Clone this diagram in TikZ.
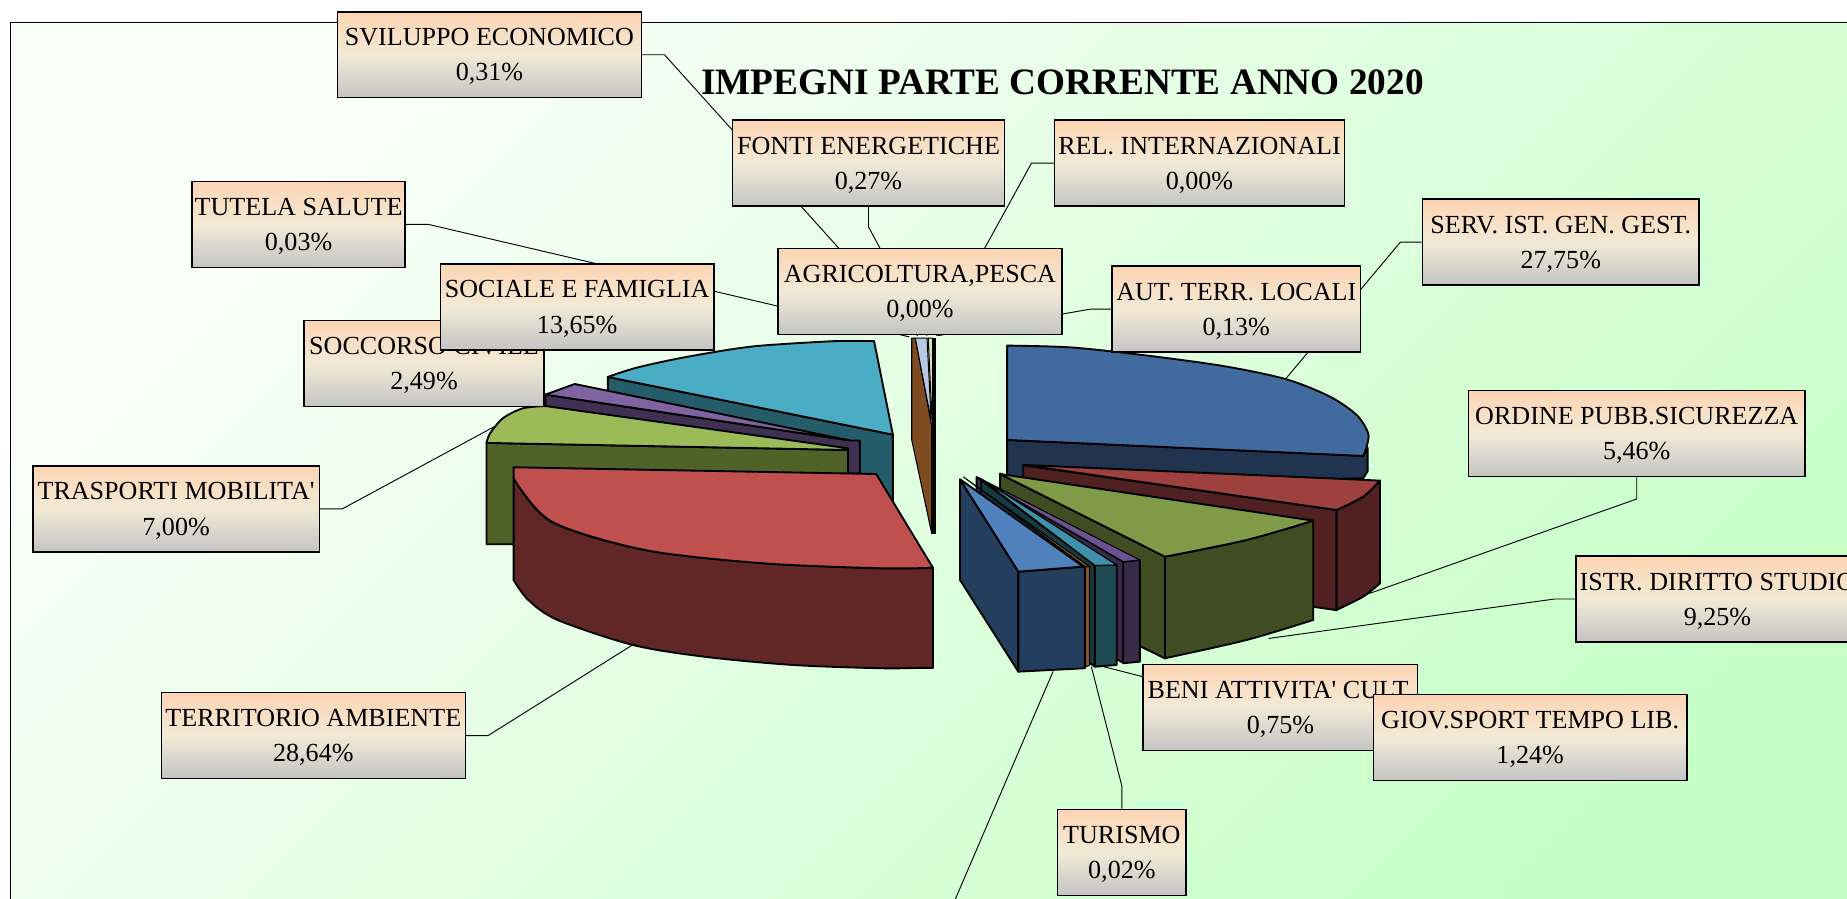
\documentclass[tikz,border=0pt]{standalone}
\usepackage{fontspec}
\setmainfont{Liberation Serif}

\definecolor{bgLight}{RGB}{250,255,250}
\definecolor{bgGreen}{RGB}{198,255,198}
\definecolor{boxTop}{RGB}{252,212,178}
\definecolor{boxMid}{RGB}{242,234,214}
\definecolor{boxBot}{RGB}{196,196,196}
\definecolor{socTop}{HTML}{4BACC6}
\definecolor{socSide}{HTML}{255C6A}
\definecolor{soccTop}{HTML}{8064A2}
\definecolor{soccSide}{HTML}{403152}
\definecolor{traspTop}{HTML}{9BBB59}
\definecolor{traspSide}{HTML}{4F6228}
\definecolor{terTop}{HTML}{C0504D}
\definecolor{terSide}{HTML}{612626}
\definecolor{servTop}{HTML}{416A9E}
\definecolor{servSide}{HTML}{20344F}
\definecolor{ordTop}{HTML}{9E403E}
\definecolor{ordSide}{HTML}{512020}
\definecolor{istrTop}{HTML}{809B48}
\definecolor{istrSide}{HTML}{404C22}
\definecolor{giovTop}{HTML}{6C5291}
\definecolor{giovSide}{HTML}{382A48}
\definecolor{beniTop}{HTML}{3D91AA}
\definecolor{beniSide}{HTML}{1E4852}
\definecolor{turBrown}{HTML}{8C5424}
\definecolor{bluTop}{HTML}{4F81BD}
\definecolor{bluSide}{HTML}{243E5D}
\definecolor{svilBrown}{HTML}{7F4B21}
\definecolor{relBlue}{HTML}{B9C8E4}
\definecolor{agriGreen}{HTML}{D7E4BD}

\pgfdeclarelayer{back}
\pgfdeclarelayer{lines}
\pgfsetlayers{back,lines,main}

\begin{document}
\begin{tikzpicture}[x=0.02cm, y=-0.02cm,
    label node/.style={draw, line width=0.7pt, top color=boxTop, bottom color=boxBot,
      middle color=boxMid, align=center, inner xsep=1pt, inner ysep=0pt, text depth=0pt,
      minimum height=1.46cm, font=\fontsize{12.6}{17}\selectfont},
    boxw/.style={minimum width=#1*0.02cm},
    title node/.style={font=\fontsize{18}{22}\selectfont\bfseries},
    slice/.style={draw, line width=0.9pt, line join=round},
    sliver/.style={draw, line width=0.5pt, line join=round},
    leader/.style={draw, line width=0.45pt}]

  \useasboundingbox (0,0) rectangle (1568,763);

  \begin{pgfonlayer}{back}
  \shadedraw[line width=0.7pt, top color=bgLight, bottom color=bgGreen, shading angle=45]
    (9,19) rectangle (1600,800);

  % sociale e famiglia
  \filldraw[slice, fill=socSide] (516,320) -- (758,369) -- (758,425) -- (516,376) -- cycle;
  \filldraw[slice, fill=socTop] plot[smooth] coordinates {(516,320) (541,312) (583,303) (640,294) (710,289.5)}
    -- (742,289.5) -- (758,369) -- cycle;
  % soccorso civile
  \filldraw[slice, fill=soccSide] (463,335) -- (722,374) -- (730,374) -- (730,402) -- (720,402) -- (463,347) -- cycle;
  \filldraw[slice, fill=soccTop] (488,326) -- (722,374) -- (463,335) -- cycle;
  % trasporti
  \filldraw[slice, fill=traspSide] (413,376) -- (720,382) -- (720,462) -- (413,462) -- cycle;
  \filldraw[slice, fill=traspTop] plot[smooth] coordinates {(413,376) (416,368) (427,355) (444,346.6) (463,344.7)}
    -- (720,380.6) -- (720,382) -- cycle;
  % territorio ambiente
  \filldraw[slice, fill=terSide] plot[smooth] coordinates {(436,406) (468,443) (548,467) (648,478) (747,482.4) (792,482)}
    -- (792,567) -- plot[smooth] coordinates {(781,567) (747,567.3) (672.6,564.5) (597.8,557.5) (537,547.5) (473.3,526.3) (448.4,509.3) (436,492.4)}
    -- cycle;
  \filldraw[slice, fill=terTop] (436,396.7) -- (743.8,402.4) -- (792,482)
    -- plot[smooth] coordinates {(792,482) (747.3,482.4) (647.7,478.2) (548,467) (468.3,442.8) (436,406)} -- cycle;

  % serv. ist. gen. gest.
  \filldraw[slice, fill=servSide] (855,373.5) -- (1157.3,387) -- (1161,380) -- (1161,400) -- (1157.3,406) -- (855,412) -- cycle;
  \filldraw[slice, fill=servTop] plot[smooth] coordinates {(855,293.4) (910,295) (975,302) (1040,311)
    (1092,322) (1129,336.7) (1151.7,352.3) (1161.5,367.8) (1160.2,379.2) (1157.3,387.1)} -- (855,373.5) -- cycle;
  % ordine pubblico
  \filldraw[slice, fill=ordSide] (868.7,395) -- (1134.7,433) -- (1134.7,518) -- (868.7,480) -- cycle;
  \filldraw[slice, fill=ordSide] plot[smooth] coordinates {(1134.7,433) (1157.3,421.6) (1171.5,408)}
    -- plot[smooth] coordinates {(1171.5,495.2) (1157.3,506.5) (1134.7,517.8)} -- cycle;
  \filldraw[slice, fill=ordTop] (868.7,394.7) -- plot[smooth] coordinates {(1171.5,408) (1157.3,421.6) (1134.7,433)} -- cycle;
  % istruzione
  \filldraw[slice, fill=istrSide] (849,402) -- (989,472.6) -- (989,559) -- (849,490) -- cycle;
  \filldraw[slice, fill=istrSide] plot[smooth] coordinates {(989,472.6) (1058.3,458.4) (1114.9,442)}
    -- plot[smooth] coordinates {(1114.9,526.3) (1058.3,543.3) (989,558.8)} -- cycle;
  \filldraw[slice, fill=istrTop] (849,402.4) -- plot[smooth] coordinates {(1114.9,442) (1058.3,458.4) (989,472.6)} -- cycle;
  % giovani sport
  \filldraw[slice, fill=giovSide] (829,405) -- (954,477) -- (954,563) -- (829,492) -- cycle;
  \filldraw[slice, fill=giovSide] (953.6,476.8) -- (967.7,475.4) -- (967.7,561.7) -- (953.6,563.1) -- cycle;
  \filldraw[sliver, fill=giovTop] (829,404.7) -- (967.7,475.4) -- (953.6,476.8) -- cycle;
  % beni culturali
  \filldraw[slice, fill=beniSide!80!black] (833,407.5) -- (929.5,480) -- (929.5,566) -- (833,494) -- cycle;
  \filldraw[slice, fill=beniSide] (929.5,479.6) -- (948,479.6) -- (948,564.5) -- (929.5,566) -- cycle;
  \filldraw[sliver, fill=beniTop] (833,406.5) -- (948,479.6) -- (929.5,480) -- cycle;
  % turismo
  \filldraw[sliver, fill=turBrown] (921,481) -- (925,481) -- (925,565) -- (921,566) -- cycle;
  \filldraw[sliver, fill=turBrown] (818,405) -- (925,481) -- (921,481) -- cycle;
  % fetta in basso
  \filldraw[slice, fill=bluSide] (815,407) -- (864.5,485.3) -- (864.5,570.2) -- (815,492.4) -- cycle;
  \filldraw[slice, fill=bluSide] (864.5,485.3) -- (921,481) -- (921,567.3) -- (864.5,570.2) -- cycle;
  \filldraw[slice, fill=bluTop] (815,406.9) -- (919.6,481) -- (864.5,485.3) -- cycle;

  % fette sottili al centro
  \filldraw[sliver, fill=svilBrown] (774,287) -- (777,287) -- (791,362) -- (791,453) -- (774,373.5) -- cycle;
  \filldraw[sliver, fill=relBlue] (777,287) -- (787,287) -- (790.5,357) -- cycle;
  \filldraw[sliver, fill=agriGreen] (788,287) -- (792,287) -- (791.5,362) -- cycle;
  \fill (791,287) rectangle (794.5,453);
  \end{pgfonlayer}

  \node[title node] (title) at (902,70) {IMPEGNI PARTE CORRENTE ANNO 2020};

  \coordinate (p-svil) at (779,285);
  \coordinate (p-fonti) at (787,285);
  \coordinate (p-rel) at (795,285);
  \coordinate (p-tutela) at (772,286);
  \coordinate (p-aut) at (796,285);
  \coordinate (p-serv) at (1092,321);
  \coordinate (p-ordine) at (1162,504);
  \coordinate (p-istr) at (1077,542);
  \coordinate (p-beni) at (937,566);
  \coordinate (p-turismo) at (926.5,566);
  \coordinate (p-blue) at (894,570);
  \coordinate (q-edge) at (806,775);
  \coordinate (p-territ) at (537,547.5);
  \coordinate (p-trasp) at (420,362);

  \node[label node, boxw=258] (svil) at (415.5,46.5) {SVILUPPO ECONOMICO\\0,31\%};
  \node[label node, boxw=231] (fonti) at (737.3,138.5) {FONTI ENERGETICHE\\0,27\%};
  \node[label node, boxw=246] (relint) at (1018.3,138.5) {REL. INTERNAZIONALI\\0,00\%};
  \node[label node, boxw=181] (tutela) at (253.5,190.5) {TUTELA SALUTE\\0,03\%};
  \node[label node, boxw=204] (soccorso) at (360,308.5) {SOCCORSO CIVILE\\2,49\%};
  \node[label node, boxw=232] (sociale) at (490,260.5) {SOCIALE E FAMIGLIA\\13,65\%};
  \node[label node, boxw=241] (agri) at (781,247.5) {AGRICOLTURA,PESCA\\0,00\%};
  \node[label node, boxw=211] (autterr) at (1049.5,262.5) {AUT. TERR. LOCALI\\0,13\%};
  \node[label node, boxw=235] (serv) at (1325,205.5) {SERV. IST. GEN. GEST.\\27,75\%};
  \node[label node, boxw=286] (ordine) at (1389.5,368) {ORDINE PUBB.SICUREZZA\\5,46\%};
  \node[label node, boxw=240] (istr) at (1458,508.5) {ISTR. DIRITTO STUDIO\\9,25\%};
  \node[label node, boxw=233] (beni) at (1087,600.5) {BENI ATTIVITA\textquotesingle{} CULT.\\0,75\%};
  \node[label node, boxw=266] (giov) at (1299,626) {GIOV.SPORT TEMPO LIB.\\1,24\%};
  \node[label node, boxw=109] (turismo) at (952.4,723.5) {TURISMO\\0,02\%};
  \node[label node, boxw=258] (territ) at (266,624.5) {TERRITORIO AMBIENTE\\28,64\%};
  \node[label node, boxw=243] (trasp) at (149.5,432) {TRASPORTI MOBILITA\textquotesingle\\7,00\%};

  \begin{pgfonlayer}{lines}
  \draw[leader] (svil.east) -- ++(19,0) -- (p-svil);
  \draw[leader] (fonti.south) -- ++(0,17) -- (p-fonti);
  \draw[leader] (relint.west) -- ++(-19,0) -- (p-rel);
  \draw[leader] (tutela.east) -- ++(19,0) -- (p-tutela);
  \draw[leader] (autterr.west) -- ++(-18,0) -- (p-aut);
  \draw[leader] (serv.west) -- ++(-18,0) -- (p-serv);
  \draw[leader] (ordine.south) -- ++(0,18.5) -- (p-ordine);
  \draw[leader] (istr.west) -- ++(-17.5,0) -- (p-istr);
  \draw[leader] ([yshift=-0.22cm]beni.north west) -- (p-beni);
  \draw[leader] (turismo.north) -- ++(0,-19) -- (p-turismo);
  \draw[leader] (p-blue) -- (q-edge);
  \draw[leader] (territ.east) -- ++(18.7,0) -- (p-territ);
  \draw[leader] (trasp.east) -- ++(19,0) -- (p-trasp);
  \end{pgfonlayer}
\end{tikzpicture}
\end{document}
